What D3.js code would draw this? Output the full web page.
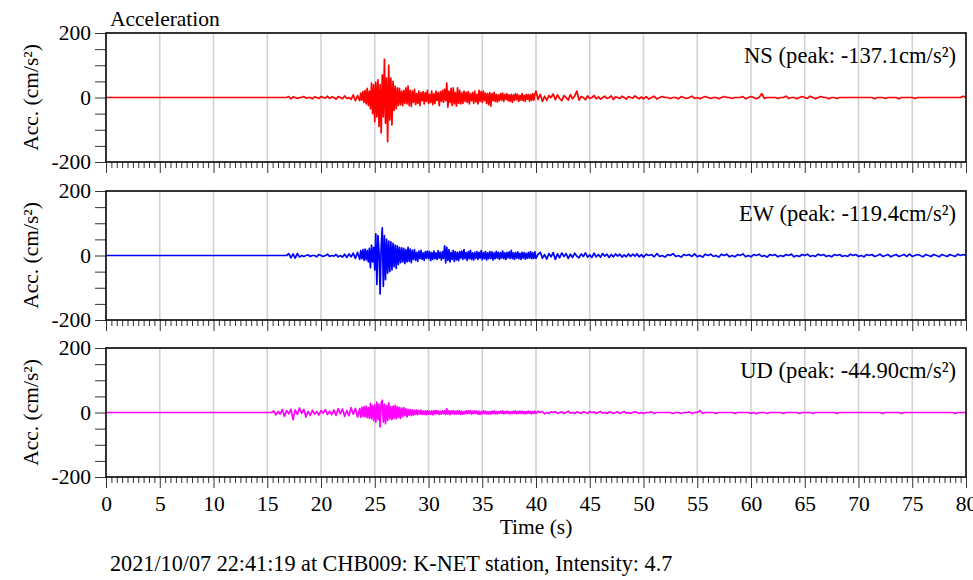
<!DOCTYPE html>
<html><head><meta charset="utf-8">
<script src="https://cdn.jsdelivr.net/npm/d3@7"></script>
<style>
body{margin:0;background:#fff}
svg{display:block}
text{font-family:"Liberation Serif","Times New Roman",serif;fill:#000}
</style>
</head><body>
<svg id="chart" width="973" height="580"></svg>
<script>
// ---------------- DATA ----------------
const titleText = "Acceleration";
const footerText = "2021/10/07 22:41:19 at CHB009: K-NET station, Intensity: 4.7";
const xTitle = "Time (s)";
const yTitle = "Acc. (cm/s²)";
const components = ["NS", "EW", "UD"];
const peakLabels = ["-137.1", "-119.4", "-44.90"];
const xTickValues = [0,5,10,15,20,25,30,35,40,45,50,55,60,65,70,75,80];
const yLabelValues = [-200, 0, 200];
const yMinorValues = [-200,-150,-100,-50,0,50,100,150,200];
const xDomain = [0, 80];
const yDomain = [-200, 200];

// sampling layout of the hand-read waveform segments (seconds)
const onsets = [16.8, 16.8, 15.4];   // "pre" segment start per component
const preStep = 0.2;
const mainStart = 23.6, mainStep = 0.1;
const midStart = 40.0, midStep = 0.2;
const tailStart = 50.0, tailStep = 0.25;

// NS (cm/s^2)
const nsPre = [0,3,-4,2,0,-3,0,0,3,-2,0,0,-4,2,0,-3,3,0,-2,4,-3,2,0,-5,3,0,-4,5,-3,0,-6,8,-10,6];
const nsMain = [
  -10,14,-8,18,-15,22,-20,28,-25,20,
  -35,45,-50,40,-75,48,-60,55,-90,40,
  -110,70,-60,118,-80,60,-137.1,100,-70,60,
  -85,50,-40,35,-35,30,-25,28,-22,20,
  -25,22,-18,30,-20,35,-25,22,-28,20,
  -15,25,-22,12,-18,20,-25,15,-10,18,
  -20,15,-12,22,-18,10,-15,20,-22,12,
  -18,20,-10,15,-25,18,-12,22,-15,25,
  -10,45,-30,20,-15,28,-25,30,-20,15,
  -27,30,-18,22,-20,15,-18,20,-12,16,
  -15,18,-20,12,-10,15,-18,20,-14,10,
  -20,22,-12,18,-15,20,-10,14,-18,12,
  -22,15,-27,12,-10,16,-12,10,-14,8,
  -10,12,-8,14,-12,9,-6,12,-10,8,
  -12,10,-15,8,-9,12,-7,10,-12,6,
  -8,12,-10,7,-12,10,-6,9,-11,8,
  -9,12,-8,10];
const nsMid = [
  20,-6,10,-12,4,-9,6,0,11,-7,
  8,-3,-10,6,0,-8,9,-4,5,20,
  -8,3,0,-7,5,-3,0,6,-4,2,
  -5,0,4,-3,0,5,-6,2,0,-3,
  4,0,-5,3,0,-2,5,0,-4,2];
const nsTail = [
  -4,3,-5,0, 4,-5,0,3, 0,0,-3,0, 0,-4,3,0, -3,0,4,-3,
  0,-4,0,3, 0,-3,0,0, -4,0,3,0, 0,-3,0,0, 0,3,-4,0,
  3,0,-4,0, 12,-3,0,0, 0,0,-3,0, 0,4,-3,0, 0,-4,0,3,
  0,-3,4,0, -4,0,3,0, 0,-4,0,0, -3,0,0,0, 0,0,0,0,
  0,0,0,0, 0,0,-4,0, 0,0,-3,0, 0,0,0,-4, 0,0,0,0,
  0,-3,0,0, 0,0,0,0, 0,0,0,0, 0,0,0,0, 0,0,0,4];

// EW (cm/s^2)
const ewPre = [0,6,-7,5,-8,6,-5,0,-3,0,2,-3,0,0,-4,3,0,-3,0,4,-3,0,-2,3,-4,0,-5,4,-6,5,-4,7,-9,10];
const ewMain = [
  -12,15,-10,18,-15,20,-14,16,-20,22,
  -38,32,-20,25,-45,67,-90,62,10,-119.4,
  30,86,-96,62,-75,50,-55,45,-50,42,
  -45,38,-35,32,-40,30,-28,25,-22,24,
  -20,22,-25,18,-20,25,-18,20,-22,16,
  -12,18,-15,10,-18,14,-10,16,-12,8,
  -15,12,-8,14,-10,12,-16,9,-12,14,
  -10,8,-12,15,-8,10,-14,12,-9,30,
  -23,25,-15,18,-20,10,-12,16,-18,12,
  -14,10,-16,12,-8,14,-12,18,-10,9,
  -15,12,-10,16,-12,8,-14,10,-9,12,
  -12,10,-8,15,-13,9,-10,12,-14,8,
  -10,12,-9,11,-14,8,-10,13,-8,10,
  -12,9,-8,14,-10,8,-12,10,-7,11,
  -9,16,-10,8,-12,9,-8,11,-10,7,
  -12,10,-8,9,-11,7,-9,10,-8,12,
  -10,8,-9,11];
const ewMid = [
  -9,4,10,-8,3,-11,6,-4,9,-12,
  5,-7,8,-3,6,-9,4,-6,7,-2,
  -7,5,-3,8,-5,2,-6,7,-4,3,
  -5,6,-2,4,-6,3,-4,5,-2,4,
  -5,2,-4,5,-3,4,-2,5,-4,3];
const ewTail = [
  -5,4,0,3, -4,6,-3,0, -5,3,0,6, -3,0,-5,3, 0,3,-3,5,
  -4,0,-5,4, 0,4,-3,0, -5,4,0,4, -4,0,-4,3, 0,5,-4,0,
  -4,3,0,4, -3,0,-5,3, 0,3,-4,0, -3,3,0,4, -4,0,-3,3,
  0,4,-3,0, -3,4,0,3, -3,0,-4,3, 0,3,-3,0, -3,4,0,3,
  -3,0,-4,3, 0,3,-3,0, 4,-3,0,3, -4,0,3,-3, 0,3,-3,4,
  -3,0,3,0, -4,3,0,-3, 3,0,-4,3, 0,-3,3,0, -3,4,0,3];

// UD (cm/s^2)
const udPre = [0,5,-7,3,-5, 9,-12,6,-4,10, -22,8,-6,14,-3, 10,-14,4,-9,7,
  -5,3,-8,6,-2, 9,-6,4,-7,8, -9,12,-4,11,-12, 6,-10,15,-5,13, -14];
const udMain = [
  12,-15,16,-12,18,-14,20,-16,15,-18,
  28,-20,22,-25,24,-30,32,-22,26,-44.9,
  30,38,-30,25,-35,22,-25,30,-20,18,
  -22,20,-18,22,-20,18,-15,16,-18,14,
  -12,15,-10,12,-14,10,-8,9,-10,8,
  -8,7,-6,8,-7,6,-5,7,-6,5,
  -6,5,-7,6,-5,4,-6,5,-7,6,
  -5,6,-4,5,-6,4,-5,6,-4,5,
  -6,12,-5,6,-7,5,-4,6,-5,4,
  -5,6,-4,5,-6,4,-5,3,-4,5,
  -4,5,-3,6,-5,4,-4,5,-3,4,
  -5,4,-6,3,-4,5,-3,4,-5,3,
  -4,3,-5,4,-3,5,-4,3,-4,3,
  -3,4,-3,5,-4,3,-3,4,-3,3,
  -4,3,-3,4,-3,5,-4,3,-3,4,
  -3,4,-3,3,-4,3,-3,4,-3,3,
  -4,3,-3,4];
const udMid = [
  -3,4,0,3,-4,0,-3,2,0,3,
  -3,0,2,-3,0,4,-2,0,-3,2,
  0,-3,2,0,-3,3,0,2,-3,0,
  3,-2,0,-3,2,0,-3,0,2,-3,
  0,3,-2,0,-3,0,2,0,-3,0];
const udTail = [
  -3,0,0,2, -3,0,0,0, 0,0,0,-3, 0,0,-3,0, 0,2,-3,0,
  0,6,-3,0, 0,0,0,-3, 0,0,0,0, 0,0,-3,0, 0,0,0,0,
  -3,0,-4,0, 0,0,-3,0, 0,0,0,0, -3,0,0,0, 0,0,-3,0,
  0,0,0,-3, 0,0,0,0, 0,0,0,0, -3,0,0,0, 0,0,0,0,
  0,0,0,0, 0,0,0,0, 0,-3,0,0, 0,0,0,0, -3,0,0,0,
  0,0,0,0, 0,0,0,0, 0,0,0,0, 0,0,0,0, -3,0,0,0];

const segments = [
  [nsPre, nsMain, nsMid, nsTail],
  [ewPre, ewMain, ewMid, ewTail],
  [udPre, udMain, udMid, udTail]
];

// ---------------- STYLE / LAYOUT ----------------
const traceColors = ["#ff0000", "#0000ff", "#ff00ff"];
const plotLeft = 106, plotRight = 966;
const panelTops = [33, 191, 348];
const panelH = 129;
const fs = 21.5;

const svg = d3.select("#chart");
const x = d3.scaleLinear().domain(xDomain).range([plotLeft, plotRight]);

function buildSeries(k) {
  const [pre, main, mid, tail] = segments[k];
  const pts = [[xDomain[0], 0]];
  pre.forEach((v, i) => pts.push([onsets[k] + i * preStep, v]));
  main.forEach((v, i) => pts.push([mainStart + i * mainStep, v]));
  mid.forEach((v, i) => pts.push([midStart + i * midStep, v]));
  tail.forEach((v, i) => pts.push([tailStart + i * tailStep, v]));
  pts.push([xDomain[1], 0]);
  return pts;
}

const defs = svg.append("defs");

components.forEach((comp, k) => {
  const top = panelTops[k];
  const y = d3.scaleLinear().domain(yDomain).range([top + panelH, top]);
  const g = svg.append("g");

  defs.append("clipPath").attr("id", "clip" + k)
    .append("rect").attr("x", plotLeft).attr("y", top)
    .attr("width", plotRight - plotLeft).attr("height", panelH);

  // vertical grid
  g.append("g").selectAll("line")
    .data(xTickValues.filter(t => t > xDomain[0] && t < xDomain[1]))
    .join("line")
    .attr("x1", d => x(d)).attr("x2", d => x(d))
    .attr("y1", top).attr("y2", top + panelH)
    .attr("stroke", "#d2d2d2").attr("stroke-width", 1.6);

  // trace
  const line = d3.line().x(d => x(d[0])).y(d => y(d[1]));
  g.append("path")
    .datum(buildSeries(k))
    .attr("clip-path", "url(#clip" + k + ")")
    .attr("d", line)
    .attr("fill", "none")
    .attr("stroke", traceColors[k])
    .attr("stroke-width", 1.7)
    .attr("stroke-linejoin", "round");

  // y axis
  const ya = g.append("g").attr("transform", `translate(${plotLeft},0)`)
    .call(d3.axisLeft(y).tickValues(yMinorValues).tickSize(11).tickPadding(4)
      .tickFormat(d => yLabelValues.includes(d) ? d : ""));
  ya.select(".domain").remove();
  ya.selectAll(".tick line").attr("stroke", "#333").attr("stroke-width", 1);
  ya.selectAll(".tick text").attr("font-size", fs).attr("font-family", "Liberation Serif, serif").attr("fill", "#000");

  // x axis minor ticks (every 0.5 s)
  const minorVals = d3.range(0, 161).map(i => i * 0.5).filter(v => !xTickValues.includes(v));
  const xm = g.append("g").attr("transform", `translate(0,${top + panelH})`)
    .call(d3.axisBottom(x).tickValues(minorVals).tickSize(6).tickFormat(""));
  xm.select(".domain").remove();
  xm.selectAll(".tick line").attr("stroke", "#333").attr("stroke-width", 1);

  const xa = g.append("g").attr("transform", `translate(0,${top + panelH})`)
    .call(d3.axisBottom(x).tickValues(xTickValues).tickSize(11).tickPadding(8)
      .tickFormat(d => k === components.length - 1 ? d : ""));
  xa.select(".domain").remove();
  xa.selectAll(".tick line").attr("stroke", "#333").attr("stroke-width", 1);
  xa.selectAll(".tick text").attr("font-size", fs).attr("font-family", "Liberation Serif, serif").attr("fill", "#000");

  // frame
  g.append("rect")
    .attr("x", plotLeft).attr("y", top)
    .attr("width", plotRight - plotLeft).attr("height", panelH)
    .attr("fill", "none").attr("stroke", "#111").attr("stroke-width", 1.7);

  // legend
  g.append("text")
    .attr("x", 956).attr("y", top + 29.5)
    .attr("text-anchor", "end").attr("font-size", 22.6)
    .text(`${comp} (peak: ${peakLabels[k]}cm/s²)`);

  // y title
  g.append("text")
    .attr("transform", `translate(38,${top + panelH / 2}) rotate(-90)`)
    .attr("text-anchor", "middle").attr("font-size", fs)
    .text(yTitle);
});

svg.append("text").attr("x", 110).attr("y", 26).attr("font-size", fs).text(titleText);
svg.append("text").attr("x", (plotLeft + plotRight) / 2).attr("y", 534)
  .attr("text-anchor", "middle").attr("font-size", fs).text(xTitle);
svg.append("text").attr("x", 110).attr("y", 571).attr("font-size", 22.2).text(footerText);
</script>
</body></html>
